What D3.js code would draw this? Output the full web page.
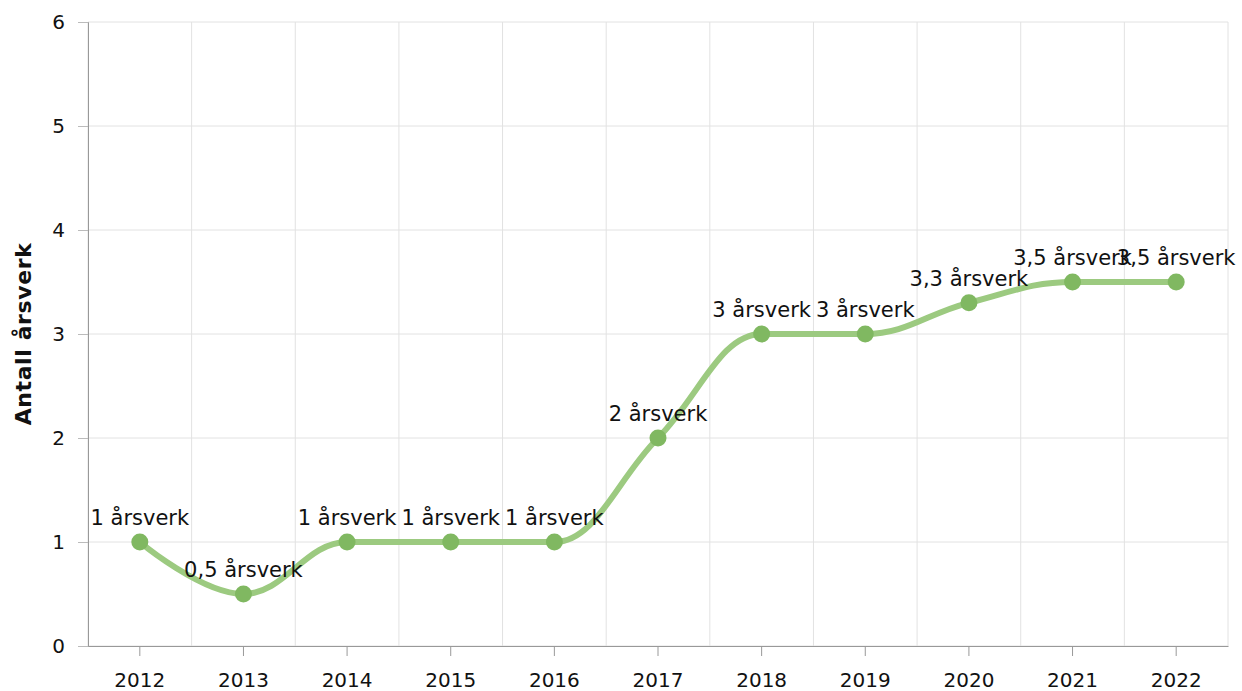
<!DOCTYPE html>
<html>
<head>
<meta charset="utf-8">
<script src="https://cdn.jsdelivr.net/npm/d3@7"></script>
<style>
    body { margin: 0; background: #fff; }
    svg { display: block; font-family: "DejaVu Sans", Verdana, sans-serif; }
</style>
</head>
<body>
<div class="chart"></div>
<script>
// data
const years = ['2012', '2013', '2014', '2015', '2016', '2017', '2018', '2019', '2020', '2021', '2022'];
const values = [1, 0.5, 1, 1, 1, 2, 3, 3, 3.3, 3.5, 3.5];
const labels = ['1 årsverk', '0,5 årsverk', '1 årsverk', '1 årsverk', '1 årsverk', '2 årsverk',
    '3 årsverk', '3 årsverk', '3,3 årsverk', '3,5 årsverk', '3,5 årsverk'];
const yTicks = [0, 1, 2, 3, 4, 5, 6];

const width = 1242, height = 691;
const padding = {'left': 88, 'right': 14, 'top': 22, 'bottom': 45};
const fontFamily = '"DejaVu Sans", Verdana, sans-serif';

let svg = d3.select('.chart')
    .append('svg')
    .attr('width', width)
    .attr('height', height);

let x = d3.scaleBand()
    .domain(years)
    .range([padding.left, width - padding.right]);
let y = d3.scaleLinear()
    .domain([0, 6])
    .range([height - padding.bottom, padding.top]);

// grid lines
let grid = svg.append('g');
grid.selectAll('.vgrid')
    .data(years.concat(['end']))
    .enter().append('line')
    .attr('x1', (d, i) => padding.left + i * x.step())
    .attr('x2', (d, i) => padding.left + i * x.step())
    .attr('y1', padding.top)
    .attr('y2', height - padding.bottom)
    .attr('stroke', '#e2e2e2')
    .attr('stroke-width', 1);
grid.selectAll('.hgrid')
    .data(yTicks)
    .enter().append('line')
    .attr('x1', padding.left)
    .attr('x2', width - padding.right)
    .attr('y1', d => y(d))
    .attr('y2', d => y(d))
    .attr('stroke', '#e2e2e2')
    .attr('stroke-width', 1);

// y axis
let axis_y = d3.axisLeft(y)
    .tickValues(yTicks)
    .tickSize(10)
    .tickPadding(13)
    .tickFormat(d => d);
let gy = svg.append('g')
    .attr('transform', `translate(${padding.left}, 0)`)
    .call(axis_y);
gy.select('.domain').attr('stroke', '#999');
gy.selectAll('.tick line').attr('stroke', '#bbb');
gy.selectAll('.tick text')
    .attr('font-family', fontFamily)
    .attr('font-size', '20px')
    .attr('fill', '#111');

// x axis
let axis_x = d3.axisBottom(x)
    .tickSize(10)
    .tickPadding(17)
    .tickSizeOuter(0);
let gx = svg.append('g')
    .attr('transform', `translate(0, ${height - padding.bottom})`)
    .call(axis_x);
gx.select('.domain').attr('stroke', '#999');
gx.selectAll('.tick line').attr('stroke', '#999');
gx.selectAll('.tick text')
    .attr('font-family', fontFamily)
    .attr('font-size', '20px')
    .attr('fill', '#111');

// y axis title
svg.append('text')
    .attr('transform', `translate(31, ${(padding.top + height - padding.bottom) / 2}) rotate(-90)`)
    .attr('text-anchor', 'middle')
    .attr('font-size', '22px')
    .attr('font-weight', 'bold')
    .attr('letter-spacing', '0.6px')
    .attr('fill', '#111')
    .text('Antall årsverk');

let cx = i => x(years[i]) + x.bandwidth() / 2;

// spline path, same smoothing as a highcharts spline series
let spline = function (vals) {
    let pts = vals.map((v, i) => [cx(i), y(v)]);
    let path = d3.path();
    let smoothing = 1.5, denom = smoothing + 1;
    let prevRight = null;
    path.moveTo(pts[0][0], pts[0][1]);
    for (let i = 1; i < pts.length; i++) {
        let [px, py] = pts[i];
        let [lx, ly] = pts[i - 1];
        let left = [px, py], right = null;
        if (i < pts.length - 1) {
            let [nx, ny] = pts[i + 1];
            let lcx = (smoothing * px + lx) / denom, lcy = (smoothing * py + ly) / denom;
            let rcx = (smoothing * px + nx) / denom, rcy = (smoothing * py + ny) / denom;
            let corr = (rcy - lcy) * (rcx - px) / (rcx - lcx) + py - rcy;
            lcy += corr;
            rcy += corr;
            if (lcy > ly && lcy > py) {
                lcy = Math.max(ly, py);
                rcy = 2 * py - lcy;
            } else if (lcy < ly && lcy < py) {
                lcy = Math.min(ly, py);
                rcy = 2 * py - lcy;
            }
            if (rcy > ny && rcy > py) {
                rcy = Math.max(ny, py);
                lcy = 2 * py - rcy;
            } else if (rcy < ny && rcy < py) {
                rcy = Math.min(ny, py);
                lcy = 2 * py - rcy;
            }
            left = [lcx, lcy];
            right = [rcx, rcy];
        }
        let c1 = prevRight || [lx, ly];
        path.bezierCurveTo(c1[0], c1[1], left[0], left[1], px, py);
        prevRight = right;
    }
    return path.toString();
};

// line
svg.append('path')
    .attr('d', spline(values))
    .attr('fill', 'none')
    .attr('stroke', '#9cca80')
    .attr('stroke-width', 6)
    .attr('stroke-linecap', 'round');

// points
svg.append('g')
    .selectAll('circle')
    .data(values)
    .enter().append('circle')
    .attr('cx', (d, i) => cx(i))
    .attr('cy', d => y(d))
    .attr('r', 8.5)
    .attr('fill', '#80b861');

// labels
svg.append('g')
    .selectAll('text')
    .data(values)
    .enter().append('text')
    .attr('x', (d, i) => cx(i))
    .attr('y', d => y(d) - 17)
    .attr('text-anchor', 'middle')
    .attr('font-size', '21px')
    .attr('fill', '#111')
    .text((d, i) => labels[i]);
</script>
</body>
</html>
